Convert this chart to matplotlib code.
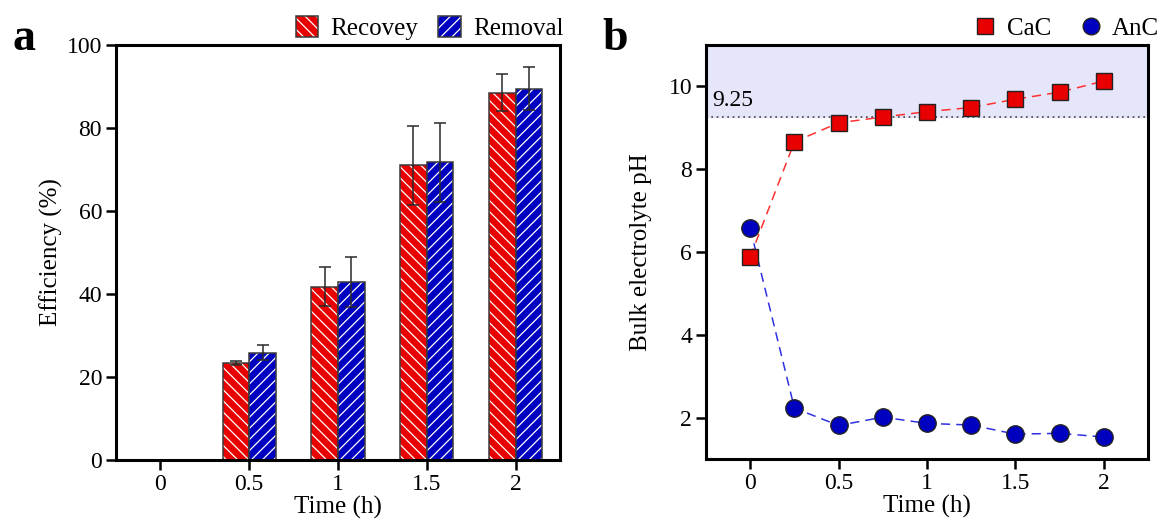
import matplotlib
matplotlib.use("Agg")
import matplotlib.pyplot as plt
import numpy as np
from matplotlib.patches import Patch
from matplotlib.lines import Line2D
from matplotlib.legend_handler import HandlerTuple

plt.rcParams['font.family'] = ['Liberation Serif', 'DejaVu Serif']
plt.rcParams['hatch.linewidth'] = 0.9

# Panel a data
times_a = ['0', '0.5', '1', '1.5', '2']
recovery = [0, 23.3, 41.8, 71.0, 88.5]
recovery_err = [0, 0.5, 4.8, 9.5, 4.5]
removal = [0, 25.8, 42.8, 71.7, 89.5]
removal_err = [0, 1.8, 6.0, 9.5, 5.2]

# Panel b data
times_b = [0, 0.25, 0.5, 0.75, 1.0, 1.25, 1.5, 1.75, 2.0]
cac = [5.88, 8.66, 9.12, 9.26, 9.39, 9.49, 9.69, 9.86, 10.13]
anc = [6.57, 2.23, 1.81, 2.01, 1.86, 1.82, 1.60, 1.62, 1.53]
threshold = 9.25

RED = '#e80000'
BLUE = '#0000c0'
EDGE = '#3a3a3a'
HATCH_R = '\\\\\\'
HATCH_B = '///'

fig = plt.figure(figsize=(11.64, 5.28), dpi=100)
ax1 = fig.add_axes([116/1164, 1 - 460/528, 444/1164, 415/528])
ax2 = fig.add_axes([706/1164, 1 - 459/528, 442/1164, 414/528])

tfs = 17
lfs = 18
x = np.arange(len(times_a))
w = 0.3
ekw = dict(ecolor='#2a2a2a', elinewidth=1.1, capsize=4, capthick=1.1)
ax1.bar(x - w/2, recovery, w, color=RED, edgecolor='white', linewidth=0, hatch=HATCH_R)
ax1.bar(x - w/2, recovery, w, fill=False, edgecolor=EDGE, linewidth=1.1,
        yerr=recovery_err, error_kw=ekw)
ax1.bar(x + w/2, removal, w, color=BLUE, edgecolor='white', linewidth=0, hatch=HATCH_B)
ax1.bar(x + w/2, removal, w, fill=False, edgecolor=EDGE, linewidth=1.1,
        yerr=removal_err, error_kw=ekw)
ax1.set_xlim(-0.5, 4.5)
ax1.set_ylim(0, 100)
ax1.set_xticks(x)
ax1.set_xticklabels(times_a)
ax1.set_yticks([0, 20, 40, 60, 80, 100])
ax1.set_xlabel('Time (h)', fontsize=lfs, labelpad=1)
ax1.set_ylabel('Efficiency (%)', fontsize=lfs, labelpad=3)
h_rec = (Patch(facecolor=RED, edgecolor='white', linewidth=0, hatch=HATCH_R),
         Patch(fill=False, edgecolor=EDGE, linewidth=1.1))
h_rem = (Patch(facecolor=BLUE, edgecolor='white', linewidth=0, hatch=HATCH_B),
         Patch(fill=False, edgecolor=EDGE, linewidth=1.1))
ax1.legend([h_rec, h_rem], ['Recovey', 'Removal'], handler_map={tuple: HandlerTuple(ndivide=1)},
           loc='lower right', bbox_to_anchor=(1.02, 1.0), ncol=2, frameon=False,
           fontsize=lfs, handlelength=0.9, handleheight=0.9, columnspacing=0.8,
           handletextpad=0.5, borderaxespad=0.1, borderpad=0.1)

ax2.axhspan(threshold, 11, color='#e6e6fa', zorder=0)
ax2.axhline(threshold, color='#444444', linestyle=(0, (1, 2.2)), linewidth=1.2, zorder=1)
ax2.text(-0.215, threshold + 0.15, f'{threshold}', fontsize=tfs, va='bottom', ha='left')
ax2.plot(times_b, cac, linestyle=(0, (6, 4)), color='#ff3030', linewidth=1.1, marker='s',
         markersize=12, markerfacecolor=RED, markeredgecolor='#222222', markeredgewidth=1.0,
         zorder=3)
ax2.plot(times_b, anc, linestyle=(0, (6, 4)), color='#3030e0', linewidth=1.1, marker='o',
         markersize=12.5, markerfacecolor=BLUE, markeredgecolor='#222222', markeredgewidth=1.0,
         zorder=2)
ax2.set_xlim(-0.25, 2.25)
ax2.set_ylim(1, 11)
ax2.set_xticks([0, 0.5, 1, 1.5, 2])
ax2.set_xticklabels(['0', '0.5', '1', '1.5', '2'])
ax2.set_yticks([2, 4, 6, 8, 10])
ax2.set_xlabel('Time (h)', fontsize=lfs, labelpad=1)
ax2.set_ylabel('Bulk electrolyte pH', fontsize=lfs, labelpad=12)
leg_h = [Line2D([], [], marker='s', linestyle='none', markersize=12, markerfacecolor=RED,
                markeredgecolor='#222222'),
         Line2D([], [], marker='o', linestyle='none', markersize=12, markerfacecolor=BLUE,
                markeredgecolor='#222222')]
ax2.legend(leg_h, ['CaC', 'AnC'], loc='lower right', bbox_to_anchor=(1.037, 1.0), ncol=2,
           frameon=False, fontsize=lfs, handlelength=1.0, columnspacing=1.1,
           handletextpad=0.35, borderaxespad=0.1, borderpad=0.1)

for ax in (ax1, ax2):
    for s in ax.spines.values():
        s.set_linewidth(2.2)
    ax.tick_params(direction='out', length=7, width=1.8, labelsize=tfs, pad=3)

fig.text(12/1164, 1 - 50/528, 'a', fontsize=33, fontweight='bold', va='baseline')
fig.text(602/1164, 1 - 50/528, 'b', fontsize=33, fontweight='bold', va='baseline')

fig.savefig('out.png', dpi=100)
